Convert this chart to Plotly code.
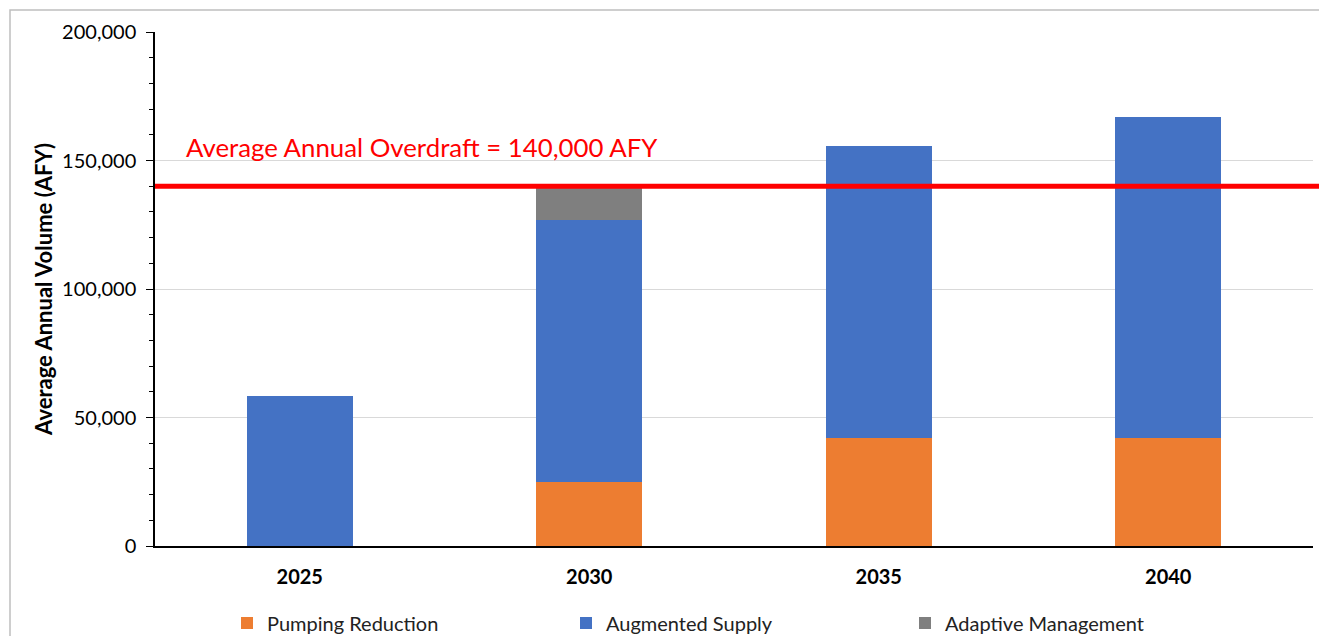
import plotly.graph_objects as go

years = ["2025", "2030", "2035", "2040"]
pumping_reduction = [0, 25000, 42000, 42000]
augmented_supply = [58500, 102000, 113500, 125000]
adaptive_management = [0, 13000, 0, 0]
overdraft = 140000
overdraft_label = "Average Annual Overdraft = 140,000 AFY"
y_ticks = [0, 50000, 100000, 150000, 200000]

FONT = "Lato, Carlito, 'Open Sans', sans-serif"

fig = go.Figure()
fig.add_bar(x=years, y=pumping_reduction, name="Pumping Reduction", marker_color="#ED7D31")
fig.add_bar(x=years, y=augmented_supply, name="Augmented Supply", marker_color="#4472C4")
fig.add_bar(x=years, y=adaptive_management, name="Adaptive Management", marker_color="#7F7F7F")

fig.update_traces(marker_line_width=0, hoverinfo="x+y+name")

W, H = 1319, 636
L, R, T, B = 155, 6, 32, 90
pw, ph = W - L - R, H - T - B

def px2x(p):
    return (p - L) / pw

def px2y(p):
    return (H - B - p) / ph

fig.update_layout(
    width=W, height=H,
    margin=dict(l=L, r=R, t=T, b=B, pad=0, autoexpand=False),
    barmode="stack",
    bargap=0.634,
    plot_bgcolor="white",
    paper_bgcolor="white",
    font=dict(family=FONT, color="black"),
    showlegend=True,
    legend=dict(
        orientation="h",
        x=px2x(227), xanchor="left",
        y=px2y(623), yanchor="middle",
        font=dict(size=20, color="#222222"),
        entrywidth=294,
        traceorder="normal",
        bgcolor="rgba(0,0,0,0)",
    ),
    xaxis=dict(
        showline=True, linecolor="black", linewidth=1.5,
        ticks="", tickfont=dict(size=20, family=FONT, color="black", weight="bold"),
        ticklabelstandoff=12,
        showgrid=False, automargin=False,
    ),
    yaxis=dict(
        range=[0, 200000],
        tickvals=y_ticks,
        tickformat=",d",
        showline=True, linecolor="black", linewidth=1.5,
        ticks="outside", ticklen=7, tickcolor="black", tickwidth=1,
        tickfont=dict(size=20, family=FONT, color="black"),
        ticklabelstandoff=6,
        showgrid=True, gridcolor="#d9d9d9", gridwidth=1,
        minor=dict(dtick=10000, ticks="outside", ticklen=4, tickcolor="black", showgrid=False),
        title=dict(text="Average Annual Volume (AFY)", font=dict(size=22, family=FONT, color="black", weight="bold"), standoff=3),
        zeroline=False, automargin=False,
    ),
)

# outer chart frame
fig.add_shape(type="rect", xref="paper", yref="paper",
              x0=px2x(10), x1=px2x(1330), y0=px2y(650), y1=px2y(10),
              line=dict(color="#BFBFBF", width=1.5), layer="below")

# overdraft line
fig.add_shape(type="line", xref="paper", yref="y",
              x0=0, x1=px2x(1325), y0=overdraft, y1=overdraft,
              line=dict(color="#FF0000", width=5))

fig.add_annotation(xref="paper", yref="y", x=px2x(184), y=overdraft + 15300,
                   text=overdraft_label, showarrow=False,
                   xanchor="left", yanchor="middle",
                   font=dict(size=25.8, color="#FF0000", family=FONT))

fig.write_html("out.html", config={"displayModeBar": False},
               post_script="document.body.style.margin='0';document.body.style.overflow='hidden';")
